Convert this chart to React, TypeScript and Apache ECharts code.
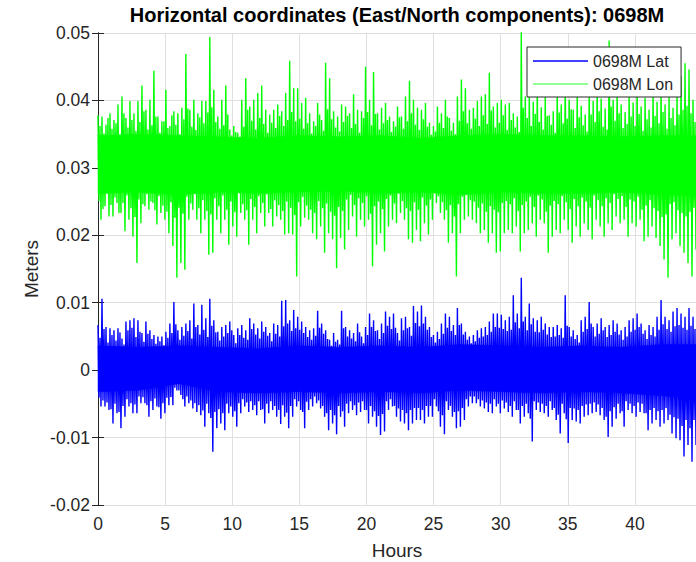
import React, { useEffect, useRef } from 'react';
import * as echarts from 'echarts';

const TITLE = 'Horizontal coordinates (East/North components): 0698M';
const X_LABEL = 'Hours';
const Y_LABEL = 'Meters';
const LAT_NAME = '0698M Lat';
const LON_NAME = '0698M Lon';
const HOURS_SPAN = 44.55;
const X_STEP = 5;
const Y_MIN = -0.02;
const Y_MAX = 0.05;
const Y_STEP = 0.01;

// Prominent local maxima / minima of the Lon (East) trace, left to right
const lonPeaks = [
  0.0378,0.0376,0.0364,0.0381,0.0371,0.0394,0.0406,0.0374,0.0399,0.0381,
  0.0399,0.0422,0.0386,0.0401,0.0444,0.0376,0.0369,0.0416,0.0362,0.0384,
  0.0381,0.0389,0.0469,0.0386,0.0401,0.0381,0.0399,0.0399,0.0494,0.0416,
  0.0376,0.0401,0.0422,0.0357,0.0362,0.0352,0.0401,0.0433,0.0391,0.0401,
  0.0411,0.0422,0.0386,0.0379,0.0386,0.0394,0.0384,0.0411,0.0459,0.0418,
  0.0418,0.0396,0.0404,0.0381,0.0369,0.0396,0.0371,0.0456,0.0433,0.0384,
  0.0376,0.0394,0.0391,0.0381,0.0409,0.0386,0.0384,0.0450,0.0401,0.0442,
  0.0381,0.0389,0.0396,0.0376,0.0369,0.0391,0.0376,0.0406,0.0429,0.0401,
  0.0389,0.0386,0.0396,0.0367,0.0362,0.0391,0.0381,0.0401,0.0374,0.0367,
  0.0406,0.0431,0.0418,0.0386,0.0389,0.0399,0.0406,0.0409,0.0441,0.0391,
  0.0396,0.0401,0.0394,0.0396,0.0381,0.0376,0.0502,0.0406,0.0412,0.0398,
  0.0421,0.0390,0.0405,0.0378,0.0384,0.0417,0.0394,0.0428,0.0401,0.0386,
  0.0409,0.0392,0.0379,0.0414,0.0399,0.0425,0.0403,0.0388,0.0489,0.0401,
  0.0418,0.0394,0.0383,0.0410,0.0397,0.0420,0.0391,0.0404,0.0386,0.0413,
  0.0398,0.0419,0.0394,0.0407,0.0389,0.0411,0.0436,0.0455,0.0446,0.0401,
];
const lonTroughs = [
  0.0223,0.0243,0.0228,0.0228,0.0248,0.0233,0.0206,0.0223,0.0198,0.0159,
  0.0218,0.0243,0.0238,0.0248,0.0216,0.0233,0.0223,0.0203,0.0184,0.0137,
  0.0159,0.0149,0.0223,0.0238,0.0223,0.0203,0.0223,0.0171,0.0174,0.0223,
  0.0203,0.0223,0.0186,0.0213,0.0198,0.0233,0.0223,0.0186,0.0223,0.0203,
  0.0233,0.0213,0.0233,0.0213,0.0228,0.0223,0.0201,0.0203,0.0201,0.0139,
  0.0213,0.0226,0.0223,0.0203,0.0194,0.0213,0.0174,0.0203,0.0194,0.0151,
  0.0196,0.0179,0.0208,0.0228,0.0198,0.0223,0.0213,0.0223,0.0154,0.0186,
  0.0203,0.0176,0.0213,0.0223,0.0218,0.0233,0.0223,0.0194,0.0189,0.0208,
  0.0191,0.0218,0.0201,0.0223,0.0248,0.0233,0.0223,0.0189,0.0203,0.0139,
  0.0203,0.0223,0.0228,0.0223,0.0218,0.0203,0.0208,0.0189,0.0203,0.0174,
  0.0176,0.0203,0.0208,0.0203,0.0213,0.0176,0.0203,0.0208,0.0218,0.0198,
  0.0223,0.0218,0.0174,0.0198,0.0208,0.0203,0.0223,0.0208,0.0189,0.0213,
  0.0198,0.0218,0.0208,0.0194,0.0223,0.0213,0.0198,0.0218,0.0208,0.0228,
  0.0218,0.0223,0.0198,0.0218,0.0213,0.0223,0.0191,0.0198,0.0213,0.0196,
  0.0184,0.0164,0.0137,0.0194,0.0203,0.0184,0.0174,0.0159,0.0139,0.0179,
];
// Smaller wiggles of the Lon trace between the prominent ones
const lonMinorPeaks = [
  0.0362,0.0351,0.0374,0.0358,0.0366,0.0349,0.0381,0.0360,0.0371,0.0355,
  0.0368,0.0384,0.0357,0.0363,0.0376,0.0352,0.0369,0.0359,0.0378,0.0364,
  0.0350,0.0372,0.0388,0.0361,0.0356,0.0375,0.0366,0.0382,0.0390,0.0368,
  0.0358,0.0363,0.0379,0.0348,0.0353,0.0346,0.0361,0.0386,0.0370,0.0357,
  0.0374,0.0365,0.0352,0.0367,0.0359,0.0377,0.0362,0.0371,0.0383,0.0369,
  0.0373,0.0358,0.0366,0.0351,0.0362,0.0379,0.0355,0.0387,0.0372,0.0360,
  0.0354,0.0368,0.0377,0.0359,0.0365,0.0352,0.0374,0.0383,0.0363,0.0380,
  0.0357,0.0366,0.0371,0.0353,0.0361,0.0375,0.0358,0.0369,0.0381,0.0364,
  0.0356,0.0372,0.0361,0.0349,0.0354,0.0367,0.0359,0.0376,0.0355,0.0350,
  0.0370,0.0384,0.0366,0.0358,0.0373,0.0362,0.0378,0.0365,0.0385,0.0360,
  0.0367,0.0378,0.0356,0.0371,0.0360,0.0353,0.0389,0.0374,0.0362,0.0380,
  0.0368,0.0357,0.0377,0.0364,0.0352,0.0382,0.0366,0.0373,0.0387,0.0359,
  0.0375,0.0363,0.0354,0.0379,0.0368,0.0384,0.0361,0.0357,0.0391,0.0370,
  0.0381,0.0359,0.0365,0.0376,0.0362,0.0380,0.0355,0.0372,0.0360,0.0377,
  0.0366,0.0383,0.0358,0.0374,0.0363,0.0379,0.0386,0.0392,0.0381,0.0368,
];
const lonMinorTroughs = [
  0.0251,0.0239,0.0262,0.0245,0.0256,0.0233,0.0248,0.0259,0.0240,0.0227,
  0.0253,0.0246,0.0261,0.0250,0.0237,0.0258,0.0244,0.0235,0.0249,0.0226,
  0.0241,0.0232,0.0257,0.0247,0.0262,0.0240,0.0252,0.0236,0.0231,0.0255,
  0.0243,0.0259,0.0238,0.0250,0.0234,0.0263,0.0246,0.0237,0.0254,0.0242,
  0.0258,0.0248,0.0261,0.0239,0.0252,0.0245,0.0236,0.0250,0.0241,0.0230,
  0.0249,0.0257,0.0244,0.0238,0.0233,0.0251,0.0240,0.0247,0.0235,0.0229,
  0.0242,0.0236,0.0253,0.0260,0.0245,0.0255,0.0248,0.0258,0.0232,0.0243,
  0.0250,0.0239,0.0254,0.0259,0.0247,0.0262,0.0251,0.0240,0.0236,0.0249,
  0.0238,0.0256,0.0244,0.0253,0.0264,0.0258,0.0249,0.0237,0.0245,0.0228,
  0.0246,0.0257,0.0260,0.0252,0.0250,0.0241,0.0247,0.0235,0.0243,0.0238,
  0.0234,0.0248,0.0251,0.0246,0.0255,0.0236,0.0245,0.0250,0.0257,0.0242,
  0.0259,0.0253,0.0235,0.0244,0.0251,0.0246,0.0258,0.0249,0.0239,0.0254,
  0.0243,0.0256,0.0250,0.0241,0.0259,0.0252,0.0243,0.0255,0.0248,0.0261,
  0.0254,0.0258,0.0242,0.0253,0.0250,0.0257,0.0238,0.0244,0.0252,0.0240,
  0.0236,0.0227,0.0231,0.0246,0.0249,0.0237,0.0233,0.0228,0.0235,0.0241,
];

// Prominent local maxima / minima of the Lat (North) trace, left to right
const latPeaks = [
  0.0067,0.0106,0.0064,0.0062,0.0059,0.0062,0.0047,0.0072,0.0074,0.0077,
  0.0074,0.0055,0.0072,0.0059,0.0052,0.0050,0.0050,0.0057,0.0069,0.0101,
  0.0059,0.0064,0.0069,0.0074,0.0099,0.0067,0.0097,0.0077,0.0106,0.0074,
  0.0057,0.0064,0.0067,0.0072,0.0052,0.0062,0.0067,0.0059,0.0077,0.0069,
  0.0062,0.0072,0.0064,0.0055,0.0069,0.0067,0.0103,0.0104,0.0074,0.0089,
  0.0079,0.0072,0.0064,0.0059,0.0062,0.0088,0.0069,0.0059,0.0045,0.0055,
  0.0045,0.0088,0.0064,0.0059,0.0055,0.0069,0.0050,0.0064,0.0084,0.0074,
  0.0059,0.0069,0.0087,0.0079,0.0084,0.0055,0.0077,0.0079,0.0064,0.0095,
  0.0087,0.0096,0.0079,0.0064,0.0052,0.0057,0.0069,0.0084,0.0079,0.0067,
  0.0092,0.0069,0.0057,0.0050,0.0052,0.0059,0.0062,0.0064,0.0072,0.0084,
  0.0084,0.0082,0.0074,0.0079,0.0111,0.0084,0.0137,0.0079,0.0099,0.0077,
  0.0074,0.0079,0.0069,0.0064,0.0064,0.0067,0.0062,0.0111,0.0064,0.0059,
  0.0052,0.0074,0.0079,0.0101,0.0064,0.0069,0.0077,0.0064,0.0067,0.0074,
  0.0069,0.0059,0.0064,0.0074,0.0077,0.0084,0.0069,0.0059,0.0067,0.0064,
  0.0079,0.0104,0.0079,0.0074,0.0087,0.0092,0.0084,0.0079,0.0092,0.0079,
];
const latTroughs = [
  -0.0054,-0.0054,-0.0059,-0.0079,-0.0064,-0.0086,-0.0069,-0.0054,-0.0064,-0.0064,
  -0.0049,-0.0049,-0.0069,-0.0059,-0.0054,-0.0072,-0.0064,-0.0052,-0.0052,-0.0030,
  -0.0037,-0.0054,-0.0049,-0.0057,-0.0062,-0.0067,-0.0084,-0.0064,-0.0121,-0.0086,
  -0.0079,-0.0089,-0.0064,-0.0069,-0.0084,-0.0064,-0.0054,-0.0062,-0.0059,-0.0067,
  -0.0059,-0.0079,-0.0064,-0.0059,-0.0069,-0.0080,-0.0069,-0.0086,-0.0069,-0.0054,
  -0.0059,-0.0086,-0.0059,-0.0054,-0.0049,-0.0057,-0.0069,-0.0089,-0.0079,-0.0095,
  -0.0069,-0.0084,-0.0064,-0.0059,-0.0067,-0.0062,-0.0059,-0.0079,-0.0069,-0.0084,
  -0.0096,-0.0091,-0.0059,-0.0054,-0.0069,-0.0076,-0.0079,-0.0089,-0.0079,-0.0074,
  -0.0074,-0.0079,-0.0069,-0.0069,-0.0054,-0.0084,-0.0095,-0.0059,-0.0069,-0.0086,
  -0.0084,-0.0074,-0.0054,-0.0049,-0.0049,-0.0054,-0.0057,-0.0062,-0.0064,-0.0054,
  -0.0064,-0.0057,-0.0062,-0.0069,-0.0059,-0.0079,-0.0069,-0.0064,-0.0106,-0.0059,
  -0.0062,-0.0064,-0.0069,-0.0059,-0.0074,-0.0094,-0.0064,-0.0108,-0.0074,-0.0076,
  -0.0079,-0.0069,-0.0067,-0.0064,-0.0062,-0.0067,-0.0074,-0.0099,-0.0084,-0.0072,
  -0.0064,-0.0084,-0.0059,-0.0064,-0.0069,-0.0062,-0.0064,-0.0089,-0.0079,-0.0074,
  -0.0084,-0.0079,-0.0074,-0.0094,-0.0101,-0.0104,-0.0128,-0.0111,-0.0136,-0.0111,
];
// Smaller wiggles of the Lat trace between the prominent ones
const latMinorPeaks = [
  0.0048,0.0061,0.0041,0.0052,0.0044,0.0056,0.0038,0.0059,0.0063,0.0049,
  0.0057,0.0042,0.0054,0.0046,0.0039,0.0043,0.0037,0.0048,0.0055,0.0068,
  0.0045,0.0051,0.0058,0.0047,0.0064,0.0053,0.0060,0.0049,0.0066,0.0056,
  0.0044,0.0050,0.0055,0.0059,0.0040,0.0052,0.0048,0.0045,0.0061,0.0053,
  0.0047,0.0057,0.0051,0.0043,0.0054,0.0050,0.0065,0.0069,0.0058,0.0062,
  0.0060,0.0055,0.0049,0.0045,0.0051,0.0063,0.0054,0.0046,0.0036,0.0042,
  0.0038,0.0062,0.0050,0.0047,0.0043,0.0056,0.0040,0.0052,0.0064,0.0058,
  0.0046,0.0055,0.0066,0.0061,0.0063,0.0044,0.0059,0.0062,0.0051,0.0070,
  0.0065,0.0069,0.0060,0.0049,0.0041,0.0046,0.0054,0.0063,0.0058,0.0052,
  0.0067,0.0053,0.0045,0.0040,0.0043,0.0048,0.0050,0.0052,0.0057,0.0064,
  0.0063,0.0061,0.0058,0.0060,0.0071,0.0062,0.0072,0.0059,0.0068,0.0057,
  0.0056,0.0060,0.0053,0.0049,0.0050,0.0052,0.0048,0.0066,0.0050,0.0046,
  0.0041,0.0057,0.0061,0.0069,0.0050,0.0054,0.0059,0.0049,0.0052,0.0057,
  0.0053,0.0045,0.0050,0.0057,0.0060,0.0064,0.0054,0.0046,0.0052,0.0050,
  0.0060,0.0068,0.0061,0.0057,0.0065,0.0067,0.0063,0.0060,0.0066,0.0061,
];
const latMinorTroughs = [
  -0.0041,-0.0045,-0.0048,-0.0058,-0.0050,-0.0062,-0.0053,-0.0043,-0.0049,-0.0051,
  -0.0039,-0.0040,-0.0052,-0.0046,-0.0042,-0.0055,-0.0049,-0.0041,-0.0040,-0.0026,
  -0.0030,-0.0043,-0.0039,-0.0045,-0.0049,-0.0052,-0.0060,-0.0050,-0.0071,-0.0062,
  -0.0058,-0.0064,-0.0050,-0.0054,-0.0061,-0.0049,-0.0043,-0.0048,-0.0046,-0.0052,
  -0.0046,-0.0058,-0.0050,-0.0046,-0.0053,-0.0059,-0.0052,-0.0063,-0.0053,-0.0043,
  -0.0046,-0.0062,-0.0047,-0.0043,-0.0039,-0.0045,-0.0053,-0.0064,-0.0059,-0.0067,
  -0.0053,-0.0061,-0.0050,-0.0046,-0.0052,-0.0048,-0.0046,-0.0059,-0.0053,-0.0061,
  -0.0068,-0.0065,-0.0046,-0.0043,-0.0053,-0.0057,-0.0059,-0.0064,-0.0059,-0.0056,
  -0.0056,-0.0059,-0.0053,-0.0053,-0.0043,-0.0061,-0.0067,-0.0046,-0.0053,-0.0062,
  -0.0061,-0.0056,-0.0043,-0.0039,-0.0039,-0.0043,-0.0045,-0.0048,-0.0050,-0.0043,
  -0.0050,-0.0045,-0.0048,-0.0053,-0.0046,-0.0059,-0.0053,-0.0050,-0.0072,-0.0046,
  -0.0048,-0.0050,-0.0053,-0.0046,-0.0056,-0.0066,-0.0050,-0.0073,-0.0056,-0.0057,
  -0.0059,-0.0053,-0.0051,-0.0050,-0.0048,-0.0051,-0.0056,-0.0069,-0.0061,-0.0055,
  -0.0050,-0.0061,-0.0046,-0.0050,-0.0053,-0.0048,-0.0050,-0.0064,-0.0059,-0.0056,
  -0.0061,-0.0059,-0.0056,-0.0066,-0.0070,-0.0072,-0.0083,-0.0074,-0.0086,-0.0074,
];

// Dense core of each trace (where the line fills solidly), every 3 hours
const coreHours = [0, 3, 6, 9, 12, 15, 18, 21, 24, 27, 30, 33, 36, 39, 42, HOURS_SPAN];
const lonCoreHigh = [0.0348,0.0350,0.0348,0.0346,0.0344,0.0348,0.0346,0.0348,0.0344,0.0348,0.0350,0.0348,0.0348,0.0346,0.0348,0.0348];
const lonCoreLow = [0.0262,0.0264,0.0260,0.0264,0.0262,0.0264,0.0266,0.0262,0.0264,0.0260,0.0264,0.0262,0.0262,0.0264,0.0260,0.0258];
const latCoreHigh = [0.0036,0.0034,0.0036,0.0034,0.0032,0.0036,0.0034,0.0036,0.0034,0.0038,0.0036,0.0034,0.0036,0.0034,0.0038,0.0038];
const latCoreLow = [-0.0032,-0.0030,-0.0020,-0.0032,-0.0034,-0.0032,-0.0034,-0.0032,-0.0034,-0.0030,-0.0032,-0.0034,-0.0032,-0.0034,-0.0038,-0.0042];

const BLUE = '#0000ff';
const GREEN = '#00ff00';
const INK = '#262626';
const GRID = '#dfdfdf';
const FONT = '"Liberation Sans", Arial, Helvetica, sans-serif';

// Sequence per step: prominent peak, small trough, small peak, prominent trough
function trace(peaks: number[], minorTroughs: number[], minorPeaks: number[], troughs: number[]) {
  const n = peaks.length * 4;
  const dt = HOURS_SPAN / (n - 1);
  const out: number[][] = [];
  for (let k = 0; k < peaks.length; k++) {
    out.push([(4 * k) * dt, peaks[k]]);
    out.push([(4 * k + 1) * dt, minorTroughs[k]]);
    out.push([(4 * k + 2) * dt, minorPeaks[k]]);
    out.push([(4 * k + 3) * dt, troughs[k]]);
  }
  return out;
}

function band(name: string, lo: number[], hi: number[], color: string) {
  return {
    name, type: 'custom', silent: true, z: 1,
    data: coreHours.map((h, i) => [h, lo[i], hi[i]]),
    encode: { x: 0, y: [1, 2] },
    renderItem: (params: any, api: any) => {
      const i = params.dataIndex;
      if (i >= coreHours.length - 1) return null;
      const pts = [
        api.coord([coreHours[i], hi[i]]),
        api.coord([coreHours[i + 1], hi[i + 1]]),
        api.coord([coreHours[i + 1], lo[i + 1]]),
        api.coord([coreHours[i], lo[i]]),
      ];
      return { type: 'polygon', shape: { points: pts }, style: { fill: color, stroke: color, lineWidth: 0.5 } };
    },
  };
}

export default function App() {
  const ref = useRef<HTMLDivElement>(null);
  useEffect(() => {
    if (!ref.current) return;
    const chart = echarts.init(ref.current, undefined, { renderer: 'svg' });
    const xCommon = {
      type: 'value', min: 0, max: HOURS_SPAN, interval: X_STEP,
      axisLine: { show: true, lineStyle: { color: INK, width: 1 } },
      axisTick: { show: true, inside: true, length: 6, lineStyle: { color: INK } },
    };
    const yCommon = {
      type: 'value', min: Y_MIN, max: Y_MAX, interval: Y_STEP,
      axisLine: { show: true, lineStyle: { color: INK, width: 1 } },
      axisTick: { show: true, inside: true, length: 6, lineStyle: { color: INK } },
    };
    chart.setOption({
      animation: false,
      backgroundColor: '#ffffff',
      grid: { left: 98, right: 0, top: 33, bottom: 57, containLabel: false },
      xAxis: [
        {
          ...xCommon, position: 'bottom',
          axisLabel: {
            color: INK, fontSize: 17.5, fontFamily: FONT, margin: 10, showMaxLabel: false,
            formatter: (v: number) => (Math.abs(v / X_STEP - Math.round(v / X_STEP)) < 1e-6 ? String(Math.round(v)) : ''),
          },
          splitLine: { show: true, lineStyle: { color: GRID, width: 1 } },
        },
        {
          ...xCommon, position: 'top',
          axisLabel: { show: false }, splitLine: { show: false },
        },
      ],
      yAxis: [
        {
          ...yCommon, position: 'left',
          axisLabel: {
            color: INK, fontSize: 17.5, fontFamily: FONT, margin: 8,
            formatter: (v: number) => String(Number(v.toFixed(2))),
          },
          splitLine: { show: true, lineStyle: { color: GRID, width: 1 } },
        },
        {
          ...yCommon, position: 'right',
          axisLabel: { show: false }, splitLine: { show: false },
        },
      ],
      legend: {
        data: [
          { name: LAT_NAME, icon: 'rect', itemStyle: { color: BLUE } },
          { name: LON_NAME, icon: 'rect', itemStyle: { color: '#70ff70' } },
        ],
        orient: 'vertical', left: 527, top: 47,
        itemWidth: 55, itemHeight: 1.6, itemGap: 7,
        padding: [6, 8, 5, 6],
        backgroundColor: '#ffffff', borderColor: INK, borderWidth: 1, borderRadius: 0,
        textStyle: { color: INK, fontSize: 16, fontFamily: FONT },
        selectedMode: false,
        z: 10,
      },
      graphic: [
        {
          type: 'text', x: 397, y: 15, z: 10,
          style: { text: TITLE, fill: '#000000', font: `bold 20px ${FONT}`, align: 'center', verticalAlign: 'middle' },
        },
        {
          type: 'text', x: 397, y: 550, z: 10,
          style: { text: X_LABEL, fill: INK, font: `19px ${FONT}`, align: 'center', verticalAlign: 'middle' },
        },
        {
          type: 'text', x: 31, y: 269, rotation: Math.PI / 2, z: 10,
          style: { text: Y_LABEL, fill: INK, font: `19px ${FONT}`, align: 'center', verticalAlign: 'middle' },
        },
      ],
      series: [
        band('lat core', latCoreLow, latCoreHigh, BLUE),
        band('lon core', lonCoreLow, lonCoreHigh, GREEN),
        {
          name: LAT_NAME, type: 'line', symbol: 'none', z: 2,
          lineStyle: { color: BLUE, width: 1.4 }, itemStyle: { color: BLUE },
          data: trace(latPeaks, latMinorTroughs, latMinorPeaks, latTroughs),
        },
        {
          name: LON_NAME, type: 'line', symbol: 'none', z: 2,
          lineStyle: { color: GREEN, width: 1.4 }, itemStyle: { color: GREEN },
          data: trace(lonPeaks, lonMinorTroughs, lonMinorPeaks, lonTroughs),
        },
      ],
    });
    return () => chart.dispose();
  }, []);
  return <div ref={ref} style={{ position: 'absolute', left: 0, top: 0, width: 696, height: 562 }} />;
}
